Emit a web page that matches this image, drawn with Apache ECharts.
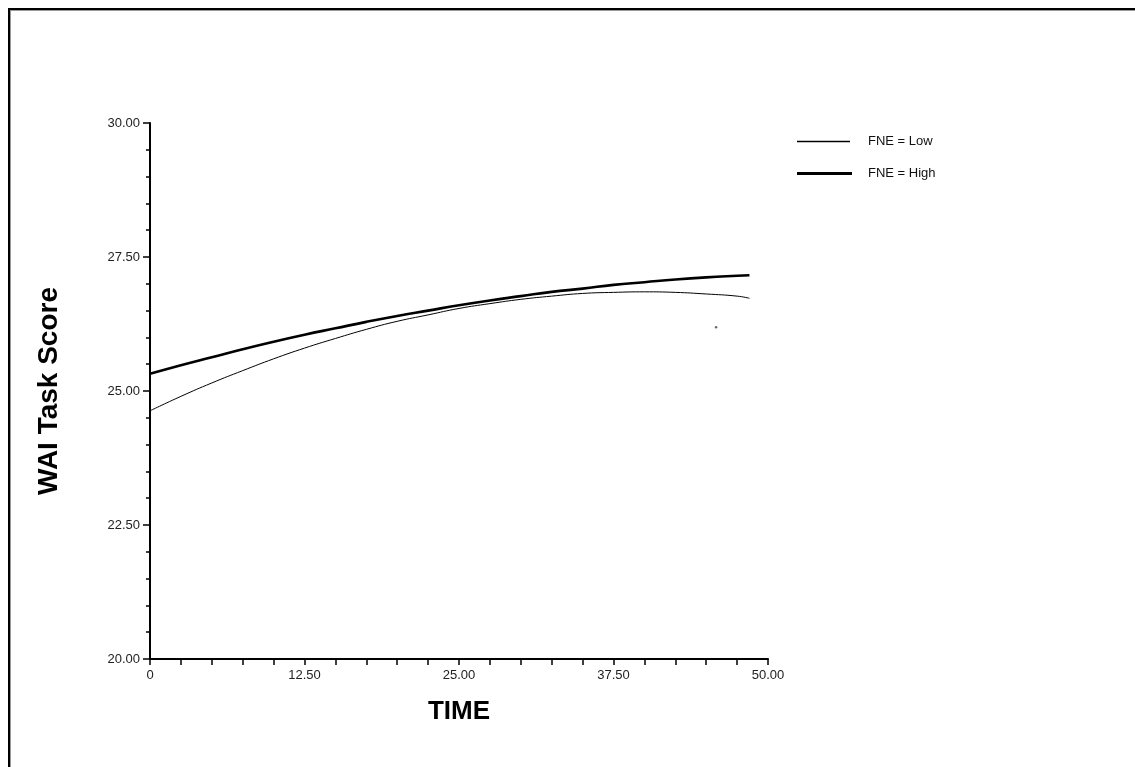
<!DOCTYPE html>
<html>
<head>
<meta charset="utf-8">
<script src="https://cdn.jsdelivr.net/npm/echarts@6/dist/echarts.min.js"></script>
<style>
html,body{margin:0;padding:0;background:#fff;}
#frame{position:absolute;left:8px;top:8px;width:1200px;height:800px;border-top:2px solid #000;border-left:2px solid #000;box-shadow:inset 1px 1px 0 #999;}
#chart{position:absolute;left:0;top:0;width:1135px;height:767px;}
</style>
</head>
<body>
<div id="frame"></div>
<div id="chart"></div>
<script>
const timePoints = [0, 2.5, 5, 7.5, 10, 12.5, 15, 17.5, 20, 22.5, 25, 27.5, 30, 32.5, 35, 37.5, 40, 42.5, 45, 47.5, 48.5];
const lowValues  = [24.63, 24.90, 25.15, 25.38, 25.60, 25.80, 25.98, 26.15, 26.30, 26.42, 26.54, 26.63, 26.71, 26.77, 26.82, 26.84, 26.85, 26.84, 26.81, 26.77, 26.73];
const highValues = [25.32, 25.48, 25.63, 25.78, 25.92, 26.05, 26.17, 26.29, 26.40, 26.50, 26.60, 26.69, 26.77, 26.85, 26.91, 26.98, 27.03, 27.08, 27.12, 27.15, 27.16];
const strayPoint = [[45.8, 26.19]];
const seriesNames = ['FNE = Low', 'FNE = High'];
const xTitle = 'TIME';
const yTitle = 'WAI Task Score';

const font = '"Liberation Sans", Arial, sans-serif';
const chart = echarts.init(document.getElementById('chart'), null, {renderer: 'canvas'});
chart.setOption({
  backgroundColor: 'transparent',
  animation: false,
  textStyle: {fontFamily: font},
  grid: {left: 150, right: 367, top: 123, bottom: 108, containLabel: false},
  legend: [
    {
      data: [{name: seriesNames[0], icon: 'rect'}],
      left: 797, top: 135, itemWidth: 53, itemHeight: 1.4, padding: 0,
      itemStyle: {color: '#000'},
      textStyle: {fontSize: 13, color: '#111', fontFamily: font, padding: [0, 0, 0, 13]}
    },
    {
      data: [{name: seriesNames[1], icon: 'rect'}],
      left: 797, top: 167, itemWidth: 55, itemHeight: 3, padding: 0,
      itemStyle: {color: '#000'},
      textStyle: {fontSize: 13, color: '#111', fontFamily: font, padding: [0, 0, 0, 11]}
    }
  ],
  xAxis: {
    type: 'value', min: 0, max: 50, interval: 12.5,
    name: xTitle, nameLocation: 'middle', nameGap: 40,
    nameTextStyle: {fontSize: 26, fontWeight: 'bold', color: '#000', fontFamily: font},
    axisLine: {show: true, onZero: false, lineStyle: {color: '#000', width: 2}},
    axisTick: {show: true, length: 6, lineStyle: {color: '#000', width: 1.5}},
    minorTick: {show: true, splitNumber: 5, length: 6, lineStyle: {color: '#000', width: 1.5}},
    splitLine: {show: false},
    axisLabel: {fontSize: 13, color: '#222', margin: 10, fontFamily: font,
      formatter: v => v === 0 ? '0' : v.toFixed(2)}
  },
  yAxis: {
    type: 'value', min: 20, max: 30, interval: 2.5,
    name: yTitle, nameLocation: 'middle', nameGap: 87, nameRotate: 90,
    nameTextStyle: {fontSize: 28, fontWeight: 'bold', color: '#000', fontFamily: font},
    axisLine: {show: true, onZero: false, lineStyle: {color: '#000', width: 2}},
    axisTick: {show: true, length: 7, lineStyle: {color: '#000', width: 1.5}},
    minorTick: {show: true, splitNumber: 5, length: 4, lineStyle: {color: '#000', width: 1.5}},
    splitLine: {show: false},
    axisLabel: {fontSize: 13, color: '#222', margin: 10, fontFamily: font,
      formatter: v => v.toFixed(2)}
  },
  series: [
    {
      name: seriesNames[0], type: 'line', symbol: 'none', smooth: true,
      data: timePoints.map((t, i) => [t, lowValues[i]]),
      lineStyle: {color: '#000', width: 1}, itemStyle: {color: '#000'}
    },
    {
      name: seriesNames[1], type: 'line', symbol: 'none', smooth: true,
      data: timePoints.map((t, i) => [t, highValues[i]]),
      lineStyle: {color: '#000', width: 2.6}, itemStyle: {color: '#000'}
    },
    {
      name: 'stray', type: 'scatter', symbolSize: 2.5,
      data: strayPoint, itemStyle: {color: '#444'}
    }
  ]
});
</script>
</body>
</html>
